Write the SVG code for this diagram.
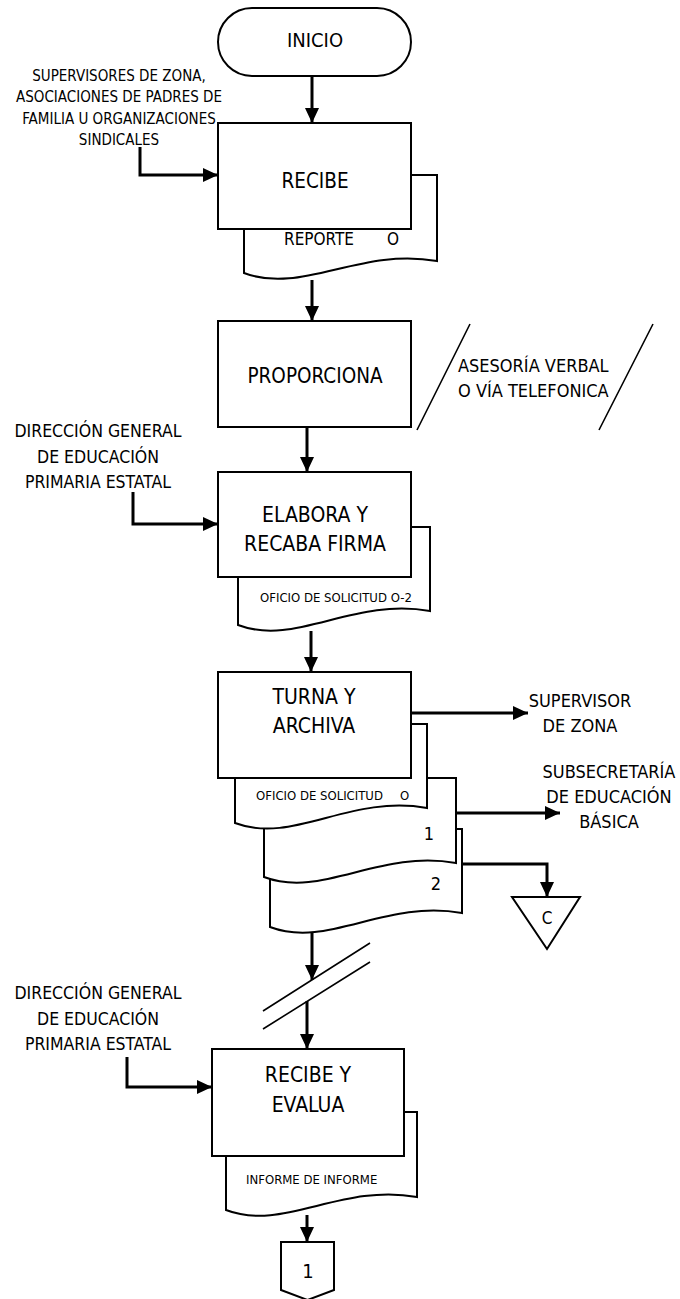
<svg xmlns="http://www.w3.org/2000/svg" width="680" height="1299" viewBox="0 0 680 1299">
<style>
.t{font-family:"DejaVu Sans Condensed","DejaVu Sans",sans-serif;font-stretch:condensed;fill:#000}
.m{text-anchor:middle}
.s{fill:#fff;stroke:#000;stroke-width:2}
.ln{fill:none;stroke:#000;stroke-width:1.6}
.c{fill:none;stroke:#000;stroke-width:3}
.ca{fill:none;stroke:#000;stroke-width:3;marker-end:url(#ah)}
</style>
<defs>
<marker id="ah" markerUnits="userSpaceOnUse" markerWidth="15" markerHeight="14" refX="15" refY="7" orient="auto">
<path d="M0,0 L15,7 L0,14 Z" fill="#000"/>
</marker>
</defs>
<rect width="680" height="1299" fill="#fff"/>

<g id="connectors">
<path class="ca" d="M312,76 V123"/>
<path class="ca" d="M140,147 V175 H218"/>
<path class="ca" d="M312,280 V321"/>
<path class="ca" d="M307,427 V472"/>
<path class="ca" d="M133,492 V524 H218"/>
<path class="ca" d="M311,631 V672"/>
<path class="ca" d="M411,713 H528"/>
<path class="ca" d="M456,813 H560"/>
<path class="ca" d="M462,864 H547 V897"/>
<path class="ca" d="M312,932 V980"/>
<path class="ca" d="M307,1001 V1049"/>
<path class="ca" d="M127,1057 V1087 H212"/>
<path class="ca" d="M307,1215 V1242"/>
</g>

<g id="inicio">
<rect class="s" x="218" y="8" width="193" height="68" rx="34"/>
<text class="t m" x="315" y="46.5" font-size="20">INICIO</text>
</g>

<g id="input-supervisores">
<text class="t m" font-size="15"><tspan x="119" y="81">SUPERVISORES DE ZONA,</tspan><tspan x="119" y="102">ASOCIACIONES DE PADRES DE</tspan><tspan x="119" y="124">FAMILIA U ORGANIZACIONES</tspan><tspan x="119" y="145">SINDICALES</tspan></text>
</g>

<g id="recibe">
<path class="s" d="M244,175 H437 V261 C360,247 302,295 244,273 Z"/>
<rect class="s" x="218" y="123" width="193" height="106"/>
<text class="t m" x="315" y="188" font-size="20.5">RECIBE</text>
<text class="t" x="284" y="245" font-size="17">REPORTE<tspan x="387">O</tspan></text>
</g>

<g id="proporciona">
<rect class="s" x="218" y="321" width="193" height="106"/>
<text class="t m" x="315" y="382.5" font-size="20.5">PROPORCIONA</text>
</g>

<g id="asesoria">
<path class="ln" d="M470,324 L417,430 M653,324 L599,430"/>
<text class="t" font-size="18"><tspan x="458" y="371.5">ASESORÍA VERBAL</tspan><tspan x="458" y="396.5">O VÍA TELEFONICA</tspan></text>
</g>

<g id="input-direccion-1">
<text class="t m" font-size="17.5"><tspan x="98" y="437">DIRECCIÓN GENERAL</tspan><tspan x="98" y="463">DE EDUCACIÓN</tspan><tspan x="98" y="488">PRIMARIA ESTATAL</tspan></text>
</g>

<g id="elabora">
<path class="s" d="M238,527 H430 V611 C353,597 296,647 238,625 Z"/>
<rect class="s" x="218" y="472" width="193" height="105"/>
<text class="t m" font-size="21"><tspan x="315" y="521.5">ELABORA Y</tspan><tspan x="315" y="550.5">RECABA FIRMA</tspan></text>
<text class="t" x="260" y="601.5" font-size="13">OFICIO DE SOLICITUD O-2</text>
</g>

<g id="turna">
<path class="s" d="M270,829 H462 V913 C385,899 328,949 270,927 Z"/>
<path class="s" d="M264,778 H456 V863 C379,849 322,899 264,877 Z"/>
<path class="s" d="M235,724 H427 V808 C350,794 293,845 235,823 Z"/>
<rect class="s" x="218" y="672" width="193" height="106"/>
<text class="t m" font-size="21"><tspan x="314" y="703.5">TURNA Y</tspan><tspan x="314" y="733">ARCHIVA</tspan></text>
<text class="t" x="256" y="800" font-size="13">OFICIO DE SOLICITUD<tspan x="400">O</tspan></text>
<text class="t m" x="429" y="840" font-size="18">1</text>
<text class="t m" x="436" y="890" font-size="18">2</text>
</g>

<g id="supervisor-zona">
<text class="t m" font-size="18"><tspan x="580" y="706.5">SUPERVISOR</tspan><tspan x="580" y="732">DE ZONA</tspan></text>
</g>

<g id="subsecretaria">
<text class="t m" font-size="18"><tspan x="609" y="778">SUBSECRETARÍA</tspan><tspan x="609" y="803">DE EDUCACIÓN</tspan><tspan x="609" y="828">BÁSICA</tspan></text>
</g>

<g id="archivo-c">
<path class="s" d="M512,897 H580 L547,949 Z"/>
<text class="t m" x="547" y="924" font-size="17">C</text>
</g>

<g id="break">
<path class="ln" d="M263,1011 L370,943 M263,1029 L370,962"/>
</g>

<g id="input-direccion-2">
<text class="t m" font-size="17.5"><tspan x="98" y="999">DIRECCIÓN GENERAL</tspan><tspan x="98" y="1025">DE EDUCACIÓN</tspan><tspan x="98" y="1050">PRIMARIA ESTATAL</tspan></text>
</g>

<g id="recibe-evalua">
<path class="s" d="M226,1112 H417 V1197 C341,1183 283,1232 226,1210 Z"/>
<rect class="s" x="212" y="1049" width="192" height="107"/>
<text class="t m" font-size="21"><tspan x="308" y="1081.5">RECIBE Y</tspan><tspan x="308" y="1111.5">EVALUA</tspan></text>
<text class="t" x="246" y="1184" font-size="13">INFORME DE INFORME</text>
</g>

<g id="conector-1">
<path class="s" d="M281,1242 H334 V1290 L307.5,1300 L281,1290 Z"/>
<text class="t m" x="308" y="1278" font-size="20">1</text>
</g>
</svg>
